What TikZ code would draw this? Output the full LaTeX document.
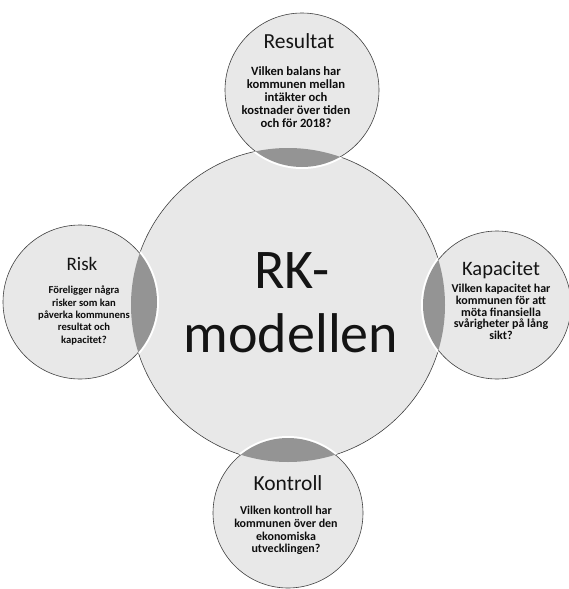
\documentclass[tikz,border=0pt]{standalone}
\usepackage{fontspec}
\setmainfont{Carlito}
\tikzset{
  disc/.style={circle, draw=black!75, line width=0.6pt, fill=black!9, inner sep=0pt},
  headtxt/.style={anchor=base, inner sep=0pt, text=black!92},
  bodytxt/.style={anchor=north, inner sep=0pt, align=center, text=black!95, font=\bfseries},
}
\begin{document}
\begin{tikzpicture}[x=1pt,y=-1pt]
\useasboundingbox (0,0) rectangle (568,589);
% big circle
\node[disc, minimum size=314pt] (big) at (288,305) {};
% satellites
\node[disc, minimum size=154pt] (top) at (302,90) {};
\node[disc, minimum size=154pt] (left) at (80,302) {};
\node[disc, minimum size=148pt] (right) at (497,305) {};
\node[disc, minimum size=150pt] (bot) at (288,513) {};
% white gaps and lenses
\begin{scope}
  \clip (big.center) circle[radius=157pt];
  \draw[white, line width=4pt] (top.center) circle[radius=77pt];
  \draw[white, line width=4pt] (left.center) circle[radius=77pt];
  \draw[white, line width=4pt] (right.center) circle[radius=74pt];
  \draw[white, line width=4pt] (bot.center) circle[radius=75pt];
  \fill[black!42] (top.center) circle[radius=77pt];
  \fill[black!42] (left.center) circle[radius=77pt];
  \fill[black!42] (right.center) circle[radius=74pt];
  \fill[black!42] (bot.center) circle[radius=75pt];
\end{scope}
% central text
\node[headtxt, font=\fontsize{56}{64}\selectfont] (rk) at (292,288) {RK-};
\node[headtxt, font=\fontsize{56}{64}\selectfont] (mod) at (291,352) {modellen};
% headings
\node[headtxt, font=\fontsize{21.5}{24}\selectfont] (hres) at (299,48) {Resultat};
\node[headtxt, font=\fontsize{19}{22}\selectfont] (hrisk) at (82,270) {Risk};
\node[headtxt, font=\fontsize{20.5}{24}\selectfont] (hkap) at (501,275) {Kapacitet};
\node[headtxt, font=\fontsize{21.5}{24}\selectfont] (hkon) at (288,490) {Kontroll};
% bodies
\node[bodytxt, font=\bfseries\fontsize{12.6}{13}\selectfont] (bres) at (296,66.5)
  {Vilken balans har\\kommunen mellan\\intäkter och\\kostnader över tiden\\och för 2018?};
\node[bodytxt, font=\bfseries\fontsize{10.6}{12.3}\selectfont] (brisk) at (84,286)
  {Föreligger några\\risker som kan\\påverka kommunens\\resultat och\\kapacitet?};
\node[bodytxt, font=\bfseries\fontsize{12}{11.7}\selectfont] (bkap) at (501,284)
  {Vilken kapacitet har\\kommunen för att\\möta finansiella\\svårigheter på lång\\sikt?};
\node[bodytxt, font=\bfseries\fontsize{12}{12.7}\selectfont] (bkon) at (286,506)
  {Vilken kontroll har\\kommunen över den\\ekonomiska\\utvecklingen?};
\end{tikzpicture}
\end{document}
